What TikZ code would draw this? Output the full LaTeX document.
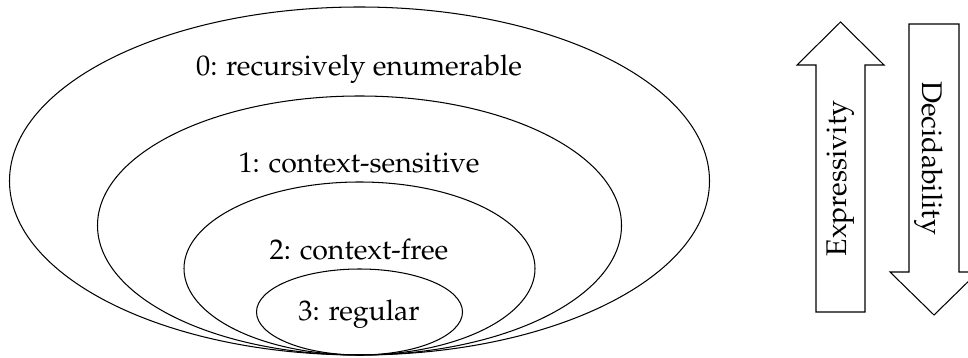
\documentclass[tikz,border=0pt]{standalone}
\usepackage[T1]{fontenc}
\usepackage{mathpazo}
\begin{document}
\begin{tikzpicture}[x=0.385pt,y=-0.385pt]
      \tikzstyle{every node}=[inner sep=0pt,anchor=base,
                            font=\fontsize{10.95}{13.6}\selectfont]
      \tikzstyle{level}=[line width=0.4pt]
      \useasboundingbox (0,0) rectangle (968,358);

      % nested language classes, all touching at the bottom
      \draw[level] (359.5,181) ellipse (350 and 174);
      \draw[level] (359.5,225.5) ellipse (262 and 129.5);
      \draw[level] (359.5,268.5) ellipse (175.5 and 86.5);
      \draw[level] (359.5,312) ellipse (103 and 43);

      \node (re) at (359,76) {0: recursively enumerable};
      \node (cs) at (359,173) {1: context-sensitive};
      \node (cf) at (359,260) {2: context-free};
      \node (reg) at (359,320.5) {3: regular};

      % the two big arrows
      \draw (816,312) -- (816,65) -- (797,65) -- (840.5,22)
      -- (884,65) -- (865,65) -- (865,312) -- cycle;
      \node (expr) [rotate=90] at (846,178.5) {Expressivity};

      \draw (909,24) -- (909,272) -- (890,272) -- (934,315)
      -- (978,272) -- (959,272) -- (959,24) -- cycle;
      \node (dec) [rotate=-90] at (922,158) {Decidability};
\end{tikzpicture}
\end{document}
